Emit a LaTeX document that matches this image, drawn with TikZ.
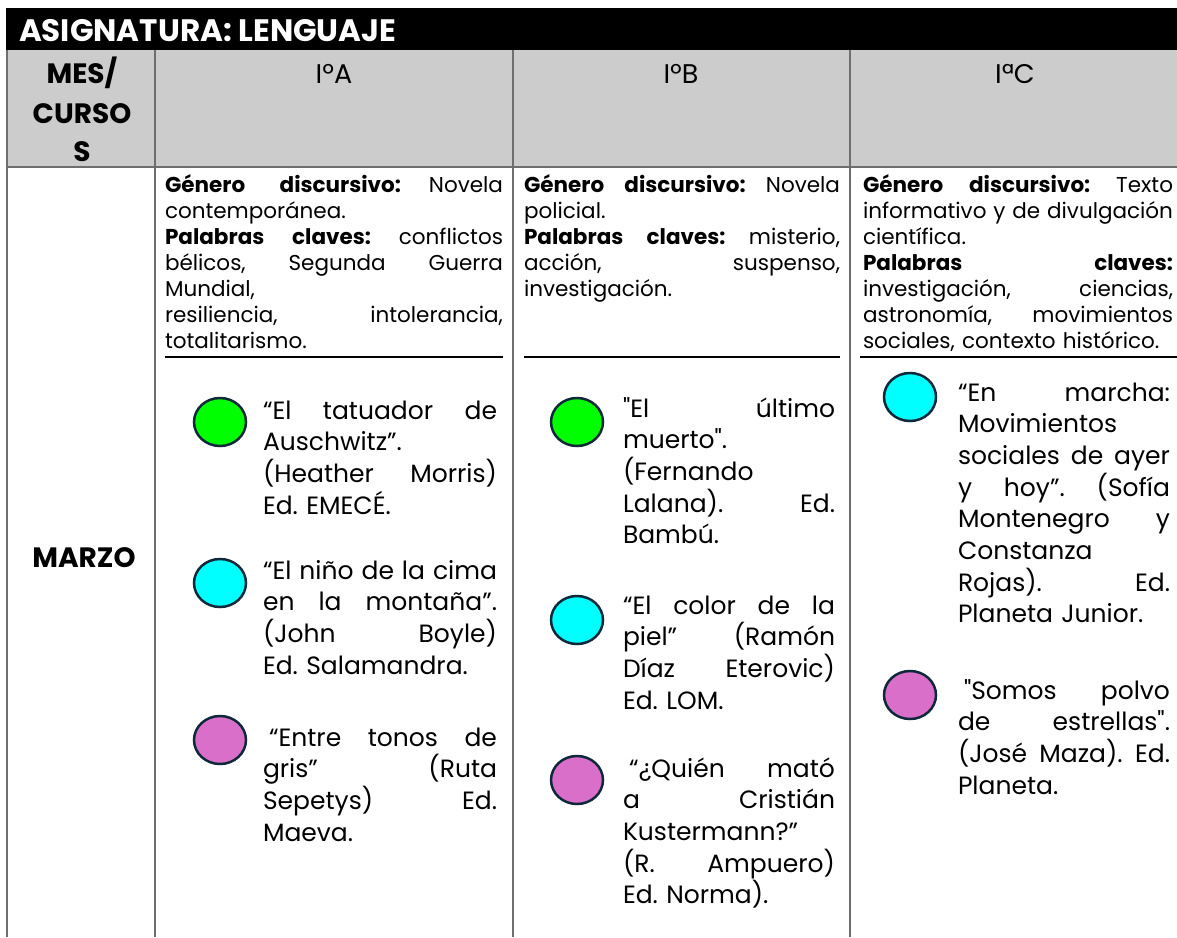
\documentclass[tikz,border=0pt]{standalone}
\usepackage{fontspec}
\setmainfont{Poppins}
\usetikzlibrary{shapes.geometric}
\definecolor{gridgray}{HTML}{6E6E6E}
\definecolor{headgray}{HTML}{CCCCCC}
\definecolor{dotline}{HTML}{10293A}
\definecolor{dotgreen}{HTML}{00FF00}
\definecolor{dotcyan}{HTML}{00FFFF}
\definecolor{dotpink}{HTML}{DA6FC9}
\newcommand\jl[1]{\leavevmode\hbox to \hsize{\spaceskip=0.3em plus 1fill\relax #1}}
\newcommand\qd{{\addfontfeatures{Ligatures=TeXOff}\symbol{34}}}
\begin{document}
\frenchspacing
\begin{tikzpicture}[x=1pt,y=-1pt,
  every node/.style={inner sep=0pt,outer sep=0pt},
  smalltxt/.style={anchor=north west,align=left,text width=#1,font=\frenchspacing\fontsize{21.5}{26}\selectfont},
  booktxt/.style={anchor=north west,align=left,text width=#1,font=\frenchspacing\fontsize{25}{31.7}\selectfont},
  headtxt/.style={anchor=base,font=\fontsize{27}{40}\selectfont},
  boldhead/.style={anchor=base,font=\bfseries\fontsize{28}{40}\selectfont},
  gridline/.style={draw=gridgray,line width=2pt},
  rulebar/.style={draw=black,line width=2.5pt},
  dotbase/.style={ellipse,draw=dotline,line width=2.5pt,minimum width=52pt,minimum height=48pt},
  gdot/.style={dotbase,fill=dotgreen},
  cdot/.style={dotbase,fill=dotcyan},
  pdot/.style={dotbase,fill=dotpink}]
\useasboundingbox (0,0) rectangle (1177,937);
% title bar and header fill
\fill[black] (6,8) rectangle (1177,50);
\fill[headgray] (7,50) rectangle (1177,167);
% grid
\draw[gridline] (7,50) -- (7,937);
\draw[gridline] (155,50) -- (155,937);
\draw[gridline] (513,50) -- (513,937);
\draw[gridline] (850,50) -- (850,937);
\draw[gridline] (7,167) -- (1177,167);
% header texts
\node[anchor=base west,text=white,font=\bfseries\fontsize{31}{34}\selectfont] (title) at (19,41) {ASIGNATURA: LENGUAJE};
\node[boldhead] (mes1) at (82,83) {MES/};
\node[boldhead] (mes2) at (82,123) {CURSO};
\node[boldhead] (mes3) at (82,161) {S};
\node[headtxt] (hA) at (334,83) {IºA};
\node[headtxt] (hB) at (681,83) {IºB};
\node[headtxt] (hC) at (1015,83) {IªC};
\node[boldhead] (marzo) at (84,567) {MARZO};
% small descriptive texts (first baseline 192)
\node[smalltxt=338pt] (sA) at (165,172) {\jl{\rule{0pt}{20pt}\textbf{Género discursivo:}\hfill Novela}\\
contemporánea.\\
\jl{\textbf{Palabras}\hfill\textbf{claves:}\hfill conflictos}\\
\jl{bélicos,\hfill Segunda\hfill Guerra}\\
Mundial,\\
\jl{resiliencia,\hfill intolerancia,}\\
totalitarismo.};
\node[smalltxt=316pt] (sB) at (524,172) {\jl{\rule{0pt}{20pt}\textbf{Género}\hfill\textbf{discursivo:}\hfill Novela}\\
policial.\\
\jl{\textbf{Palabras}\hfill\textbf{claves:}\hfill misterio,}\\
\jl{acción,\hfill suspenso,}\\
investigación.};
\node[smalltxt=310pt] (sC) at (863,172) {\jl{\rule{0pt}{20pt}\textbf{Género}\hfill\textbf{discursivo:}\hfill Texto}\\
\jl{informativo\hfill y\hfill de\hfill divulgación}\\
científica.\\
\jl{\textbf{Palabras}\hfill\textbf{claves:}}\\
\jl{investigación,\hfill ciencias,}\\
\jl{astronomía,\hfill movimientos}\\
sociales, contexto histórico.};
% rules under descriptions
\coordinate (rA1) at (165,357); \coordinate (rA2) at (503,357);
\coordinate (rB1) at (524,357); \coordinate (rB2) at (840,357);
\coordinate (rC1) at (860,357); \coordinate (rC2) at (1177,357);
\draw[rulebar] (rA1) -- (rA2);
\draw[rulebar] (rB1) -- (rB2);
\draw[rulebar] (rC1) -- (rC2);
% column A books (first baselines 419, 579, 746)
\node[gdot] (dA1) at (220,422) {};
\node[booktxt=234pt] (bA1) at (263,393) {\jl{\rule{0pt}{26pt}“El\hfill tatuador\hfill de}\\
Auschwitz”.\\
\jl{(Heather\hfill Morris)}\\
Ed. EMECÉ.};
\node[cdot] (dA2) at (220,583) {};
\node[booktxt=234pt] (bA2) at (263,553) {\jl{\rule{0pt}{26pt}“El\hfill niño\hfill de\hfill la\hfill cima}\\
\jl{en\hfill la\hfill montaña”.}\\
\jl{(John\hfill Boyle)}\\
Ed. Salamandra.};
\node[pdot] (dA3) at (220,740) {};
\node[booktxt=234pt] (bA3) at (263,720) {\jl{\rule{0pt}{26pt}\kern6pt“Entre\hfill tonos\hfill de}\\
\jl{gris”\hfill (Ruta}\\
\jl{Sepetys)\hfill Ed.}\\
Maeva.};
% column B books (first baselines 417, 614, 777)
\node[gdot] (dB1) at (577,422) {};
\node[booktxt=212pt] (bB1) at (623,391) {\jl{\rule{0pt}{26pt}\qd El\hfill último}\\
muerto\qd.\\
(Fernando\\
\jl{Lalana).\hfill Ed.}\\
Bambú.};
\node[cdot] (dB2) at (577,620) {};
\node[booktxt=212pt] (bB2) at (623,588) {\jl{\rule{0pt}{26pt}“El\hfill color\hfill de\hfill la}\\
\jl{piel”\hfill (Ramón}\\
\jl{Díaz\hfill Eterovic)}\\
Ed. LOM.};
\node[pdot] (dB3) at (577,780) {};
\node[booktxt=212pt] (bB3) at (623,751) {\jl{\rule{0pt}{26pt}\kern6pt“¿Quién\hfill mató}\\
\jl{a\hfill Cristián}\\
Kustermann?”\\
\jl{(R.\hfill Ampuero)}\\
Ed. Norma).};
% column C books (first baselines 401, 699)
\node[cdot] (dC1) at (910,397) {};
\node[booktxt=212pt] (bC1) at (958,375) {\jl{\rule{0pt}{26pt}“En\hfill marcha:}\\
Movimientos\\
\jl{sociales\hfill de\hfill ayer}\\
\jl{y\hfill hoy”.\hfill (Sofía}\\
\jl{Montenegro\hfill y}\\
Constanza\\
\jl{Rojas).\hfill Ed.}\\
Planeta Junior.};
\node[pdot] (dC2) at (910,695) {};
\node[booktxt=212pt] (bC2) at (958,673) {\jl{\rule{0pt}{26pt}\kern6pt\qd Somos\hfill polvo}\\
\jl{de\hfill estrellas\qd.}\\
\jl{(José\hfill Maza).\hfill Ed.}\\
Planeta.};
\end{tikzpicture}
\end{document}
